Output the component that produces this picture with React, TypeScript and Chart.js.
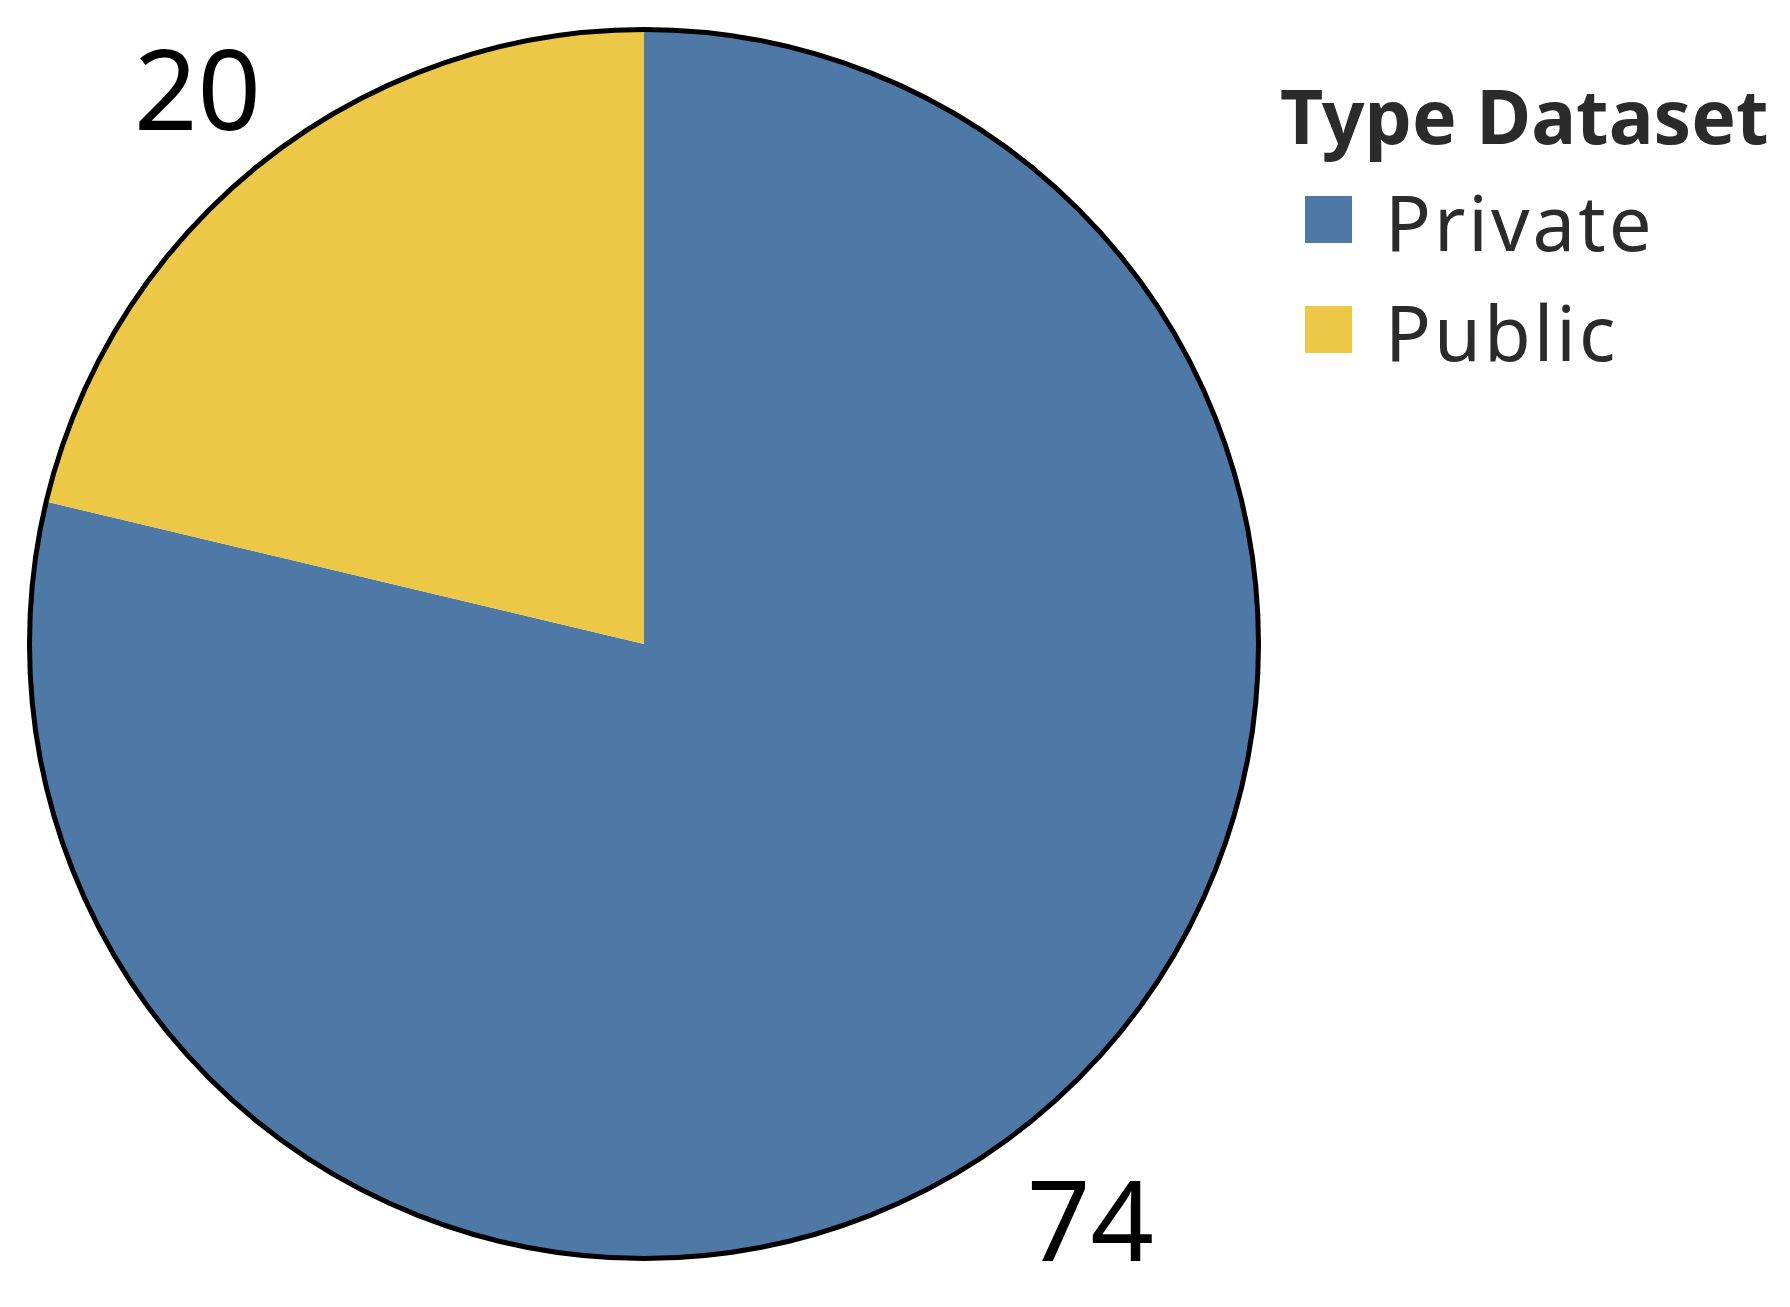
import React, { useEffect, useRef } from "react";
import { Chart, registerables } from "chart.js";

Chart.register(...registerables);

const categories = ["Private", "Public"];
const counts = [74, 20];
const colors = ["#4e79a7", "#ecc846"];
const legendTitle = "Type Dataset";

const FONT = "'Noto Sans', 'Open Sans', sans-serif";

const outlinePlugin = {
  id: "outline",
  afterDatasetsDraw(chart: any) {
    const meta = chart.getDatasetMeta(0);
    const arc = meta.data[0];
    if (!arc) return;
    const { x, y, outerRadius } = arc.getProps(["x", "y", "outerRadius"], true);
    const ctx = chart.ctx;
    ctx.save();
    ctx.beginPath();
    ctx.arc(x, y, outerRadius + 0.5, 0, Math.PI * 2);
    ctx.lineWidth = 5;
    ctx.strokeStyle = "#000000";
    ctx.stroke();
    ctx.restore();
  },
};

const labelPlugin = {
  id: "outerLabels",
  afterDatasetsDraw(chart: any) {
    const meta = chart.getDatasetMeta(0);
    const ctx = chart.ctx;
    const values = chart.data.datasets[0].data as number[];
    ctx.save();
    ctx.font = `400 111px ${FONT}`;
    ctx.fillStyle = "#000000";
    ctx.textAlign = "center";
    ctx.textBaseline = "alphabetic";
    const capH = 79;
    meta.data.forEach((el: any, i: number) => {
      const { x, y, startAngle, endAngle, outerRadius } = el.getProps(
        ["x", "y", "startAngle", "endAngle", "outerRadius"],
        true
      );
      const mid = (startAngle + endAngle) / 2;
      const ux = Math.cos(mid);
      const uy = Math.sin(mid);
      const text = String(values[i]);
      const w = ctx.measureText(text).width;
      const support = Math.abs(ux) * (w / 2) + Math.abs(uy) * (capH / 2);
      const d = outerRadius + 36 + support;
      ctx.fillText(text, x + ux * d, y + uy * d + capH / 2 + 12);
    });
    ctx.restore();
  },
};

const legendPlugin = {
  id: "customLegend",
  afterDraw(chart: any) {
    const ctx = chart.ctx;
    const left = 1280;
    ctx.save();
    ctx.textAlign = "left";
    ctx.textBaseline = "alphabetic";
    ctx.fillStyle = "#2b2b2b";
    ctx.font = `700 75px ${FONT}`;
    ctx.fillText(legendTitle, left, 144);
    ctx.font = `400 76px ${FONT}`;
    (ctx as any).letterSpacing = "3px";
    categories.forEach((c, i) => {
      const top = 196 + i * 110;
      ctx.fillStyle = colors[i];
      ctx.fillRect(left + 25, top, 47, 47);
      ctx.fillStyle = "#2b2b2b";
      ctx.fillText(c, left + 105, top + 55);
    });
    ctx.restore();
  },
};

export default function App() {
  const ref = useRef<HTMLCanvasElement | null>(null);
  useEffect(() => {
    if (!ref.current) return;
    const chart = new Chart(ref.current, {
      type: "pie",
      data: {
        labels: categories,
        datasets: [
          {
            data: counts,
            backgroundColor: colors,
            borderWidth: 0,
          },
        ],
      },
      options: {
        responsive: false,
        animation: false,
        radius: 614,
        layout: { padding: { left: 0, top: 0, right: 502, bottom: 19 } },
        plugins: {
          legend: { display: false },
          tooltip: { enabled: false },
        },
      } as any,
      plugins: [outlinePlugin, labelPlugin, legendPlugin],
    });
    return () => chart.destroy();
  }, []);
  return (
    <div
      style={{
        position: "fixed",
        left: 0,
        top: 0,
        width: 1790,
        height: 1307,
        background: "#ffffff",
      }}
    >
      <canvas ref={ref} width={1790} height={1307} style={{ width: 1790, height: 1307 }} />
    </div>
  );
}
